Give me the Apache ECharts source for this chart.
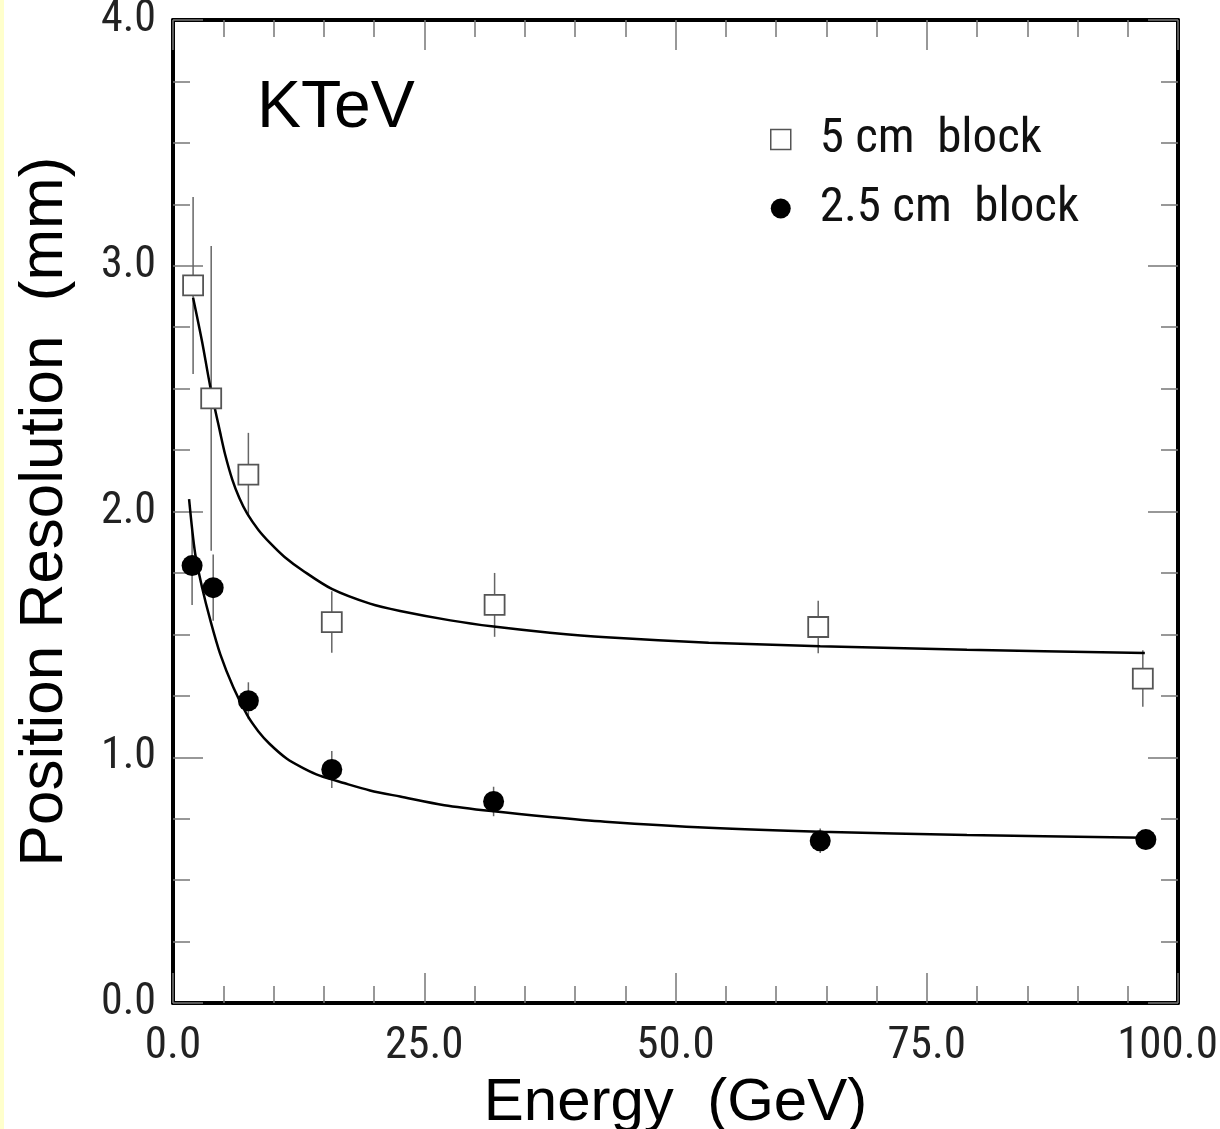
<!DOCTYPE html>
<html>
<head>
<meta charset="utf-8">
<script src="https://cdn.jsdelivr.net/npm/echarts@6/dist/echarts.min.js"></script>
<style>
html,body{margin:0;padding:0;background:#fff;width:100%;height:100%;overflow:hidden;}
#chart{width:1220px;height:1129px;position:absolute;left:0;top:0;}
</style>
</head>
<body>
<div id="chart"></div>
<script>
// ---- data ----
const energy5 = [2.0, 3.8, 7.5, 15.8, 32.0, 64.2, 96.5];
const res5    = [2.92, 2.46, 2.15, 1.55, 1.62, 1.53, 1.32];
const err5    = [0.36, 0.62, 0.17, 0.125, 0.13, 0.107, 0.115];

const energy25 = [1.9, 4.0, 7.5, 15.8, 31.9, 64.4, 96.8];
const res25    = [1.78, 1.69, 1.23, 0.95, 0.82, 0.66, 0.665];
const err25    = [0.16, 0.135, 0.075, 0.075, 0.06, 0.05, 0.03];

// fitted curves, points
const fitE5 = [2.0, 2.9, 3.7, 4.7, 5.2, 5.9, 6.6, 7.4, 8.5, 9.7, 11.1, 12.9, 15.8, 19.6, 22.6, 27.6, 31.9, 37.5, 43.1, 53.3, 64.4, 79, 96.7];
const fitR5 = [2.87, 2.69, 2.51, 2.32, 2.23, 2.13, 2.055, 1.99, 1.925, 1.87, 1.815, 1.76, 1.685, 1.625, 1.595, 1.557, 1.532, 1.507, 1.488, 1.466, 1.452, 1.437, 1.424];

const fitE25 = [1.6, 2.2, 2.9, 3.7, 4.7, 6.0, 7.4, 8.5, 9.6, 11.3, 13.0, 14.6, 17.0, 19.6, 22.6, 27.0, 31.9, 37.5, 43.0, 53.3, 64.4, 79, 96.7];
const fitR25 = [2.05, 1.83, 1.69, 1.56, 1.42, 1.285, 1.17, 1.105, 1.055, 0.995, 0.955, 0.925, 0.895, 0.865, 0.84, 0.805, 0.78, 0.757, 0.738, 0.713, 0.697, 0.684, 0.672];

const xTickLabels = ['0.0', '25.0', '50.0', '75.0', '100.0'];
const yTickLabels = ['0.0', '1.0', '2.0', '3.0', '4.0'];

const name5 = '5 cm  block';
const name25 = '2.5 cm  block';

// ---- build ----
const zip2 = (a, b) => a.map((v, i) => [v, b[i]]);
const zip3 = (a, b, c) => a.map((v, i) => [v, b[i], c[i]]);

const NARROW = "'Liberation Sans Narrow', 'Roboto Condensed', 'DejaVu Sans Condensed', sans-serif";
const SANS = "'Liberation Sans', Arial, Helvetica, sans-serif";
const tickColor = '#777';

function errRender(params, api) {
  const x = api.value(0), y = api.value(1), e = api.value(2);
  const p1 = api.coord([x, y + e]);
  const p2 = api.coord([x, y - e]);
  return {
    type: 'line',
    shape: {x1: p1[0], y1: p1[1], x2: p2[0], y2: p2[1]},
    style: {stroke: '#666', lineWidth: 1.5}
  };
}

function xAxisCfg(pos, labels) {
  return {
    type: 'value', min: 0, max: 100, interval: 25, position: pos,
    axisLine: {show: true, onZero: false, lineStyle: {color: '#000', width: 4}},
    axisTick: {show: true, inside: true, length: 30, lineStyle: {color: tickColor, width: 1.5}},
    minorTick: {show: true, splitNumber: 5, length: 17, lineStyle: {color: tickColor, width: 1.5}},
    splitLine: {show: false}, minorSplitLine: {show: false},
    axisLabel: {
      show: labels, margin: 21, fontSize: 45, fontFamily: NARROW, color: '#222',
      formatter: v => {
        const i = Math.round(v / 25);
        return i === xTickLabels.length - 1 ? '{last|' + xTickLabels[i] + '}' : xTickLabels[i];
      },
      rich: {last: {fontSize: 45, fontFamily: NARROW, color: '#222', padding: [0, 21, 0, 0]}}
    }
  };
}
function yAxisCfg(pos, labels) {
  return {
    type: 'value', min: 0, max: 4, interval: 1, position: pos,
    axisLine: {show: true, onZero: false, lineStyle: {color: '#000', width: 4}},
    axisTick: {show: true, inside: true, length: 30, lineStyle: {color: tickColor, width: 1.5}},
    minorTick: {show: true, splitNumber: 4, length: 17, lineStyle: {color: tickColor, width: 1.5}},
    splitLine: {show: false}, minorSplitLine: {show: false},
    axisLabel: {
      show: labels, margin: 17, fontSize: 44, fontFamily: NARROW, color: '#222',
      formatter: v => yTickLabels[Math.round(v)]
    }
  };
}

const xa = xAxisCfg('bottom', true);
xa.name = 'Energy  (GeV)';
xa.nameLocation = 'middle';
xa.nameGap = 52;
xa.nameTextStyle = {fontSize: 60, fontFamily: SANS, color: '#000'};
const ya = yAxisCfg('left', true);
ya.name = 'Position Resolution  (mm)';
ya.nameLocation = 'middle';
ya.nameGap = 97;
ya.nameTextStyle = {fontSize: 62, fontFamily: SANS, color: '#000'};

const chart = echarts.init(document.getElementById('chart'), null, {renderer: 'canvas', width: 1220, height: 1129});
chart.setOption({
  animation: false,
  backgroundColor: '#fff',
  grid: {left: 173, right: 42, top: 20, bottom: 126, containLabel: false, outerBoundsMode: 'none'},
  xAxis: [xa, xAxisCfg('top', false)],
  yAxis: [ya, yAxisCfg('right', false)],
  legend: {
    show: true, orient: 'vertical', left: 765, top: 110,
    itemWidth: 20, itemHeight: 20, itemGap: 20, selectedMode: false,
    textStyle: {fontSize: 49, fontFamily: NARROW, color: '#111', padding: [0, 0, 0, 24]},
    data: [
      {name: name5, icon: 'rect', itemStyle: {color: '#fff', borderColor: '#555', borderWidth: 1.5}},
      {name: name25, icon: 'circle', itemStyle: {color: '#000'}}
    ]
  },
  graphic: [
    {type: 'rect', left: 0, top: 0, shape: {width: 4, height: 1129}, style: {fill: '#FFFFCC'}, z: 100},
    {type: 'text', left: 257, top: 76, style: {text: 'KTeV', font: '66px ' + SANS, fill: '#000'}, z: 100}
  ],
  series: [
    {type: 'custom', name: 'err5', renderItem: errRender, data: zip3(energy5, res5, err5), encode: {x: 0, y: 1}, z: 2, silent: true},
    {type: 'custom', name: 'err25', renderItem: errRender, data: zip3(energy25, res25, err25), encode: {x: 0, y: 1}, z: 2, silent: true},
    {type: 'line', name: 'fit5', data: zip2(fitE5, fitR5), smooth: 0.3, showSymbol: false,
     lineStyle: {color: '#000', width: 2.5}, z: 3, silent: true},
    {type: 'line', name: 'fit25', data: zip2(fitE25, fitR25), smooth: 0.3, showSymbol: false,
     lineStyle: {color: '#000', width: 2.5}, z: 3, silent: true},
    {type: 'scatter', name: name5, data: zip2(energy5, res5), symbol: 'rect', symbolSize: 20,
     itemStyle: {color: '#fff', borderColor: '#555', borderWidth: 1.8, opacity: 1}, z: 5},
    {type: 'scatter', name: name25, data: zip2(energy25, res25), symbol: 'circle', symbolSize: 21,
     itemStyle: {color: '#000', opacity: 1}, z: 5}
  ]
});
</script>
</body>
</html>
